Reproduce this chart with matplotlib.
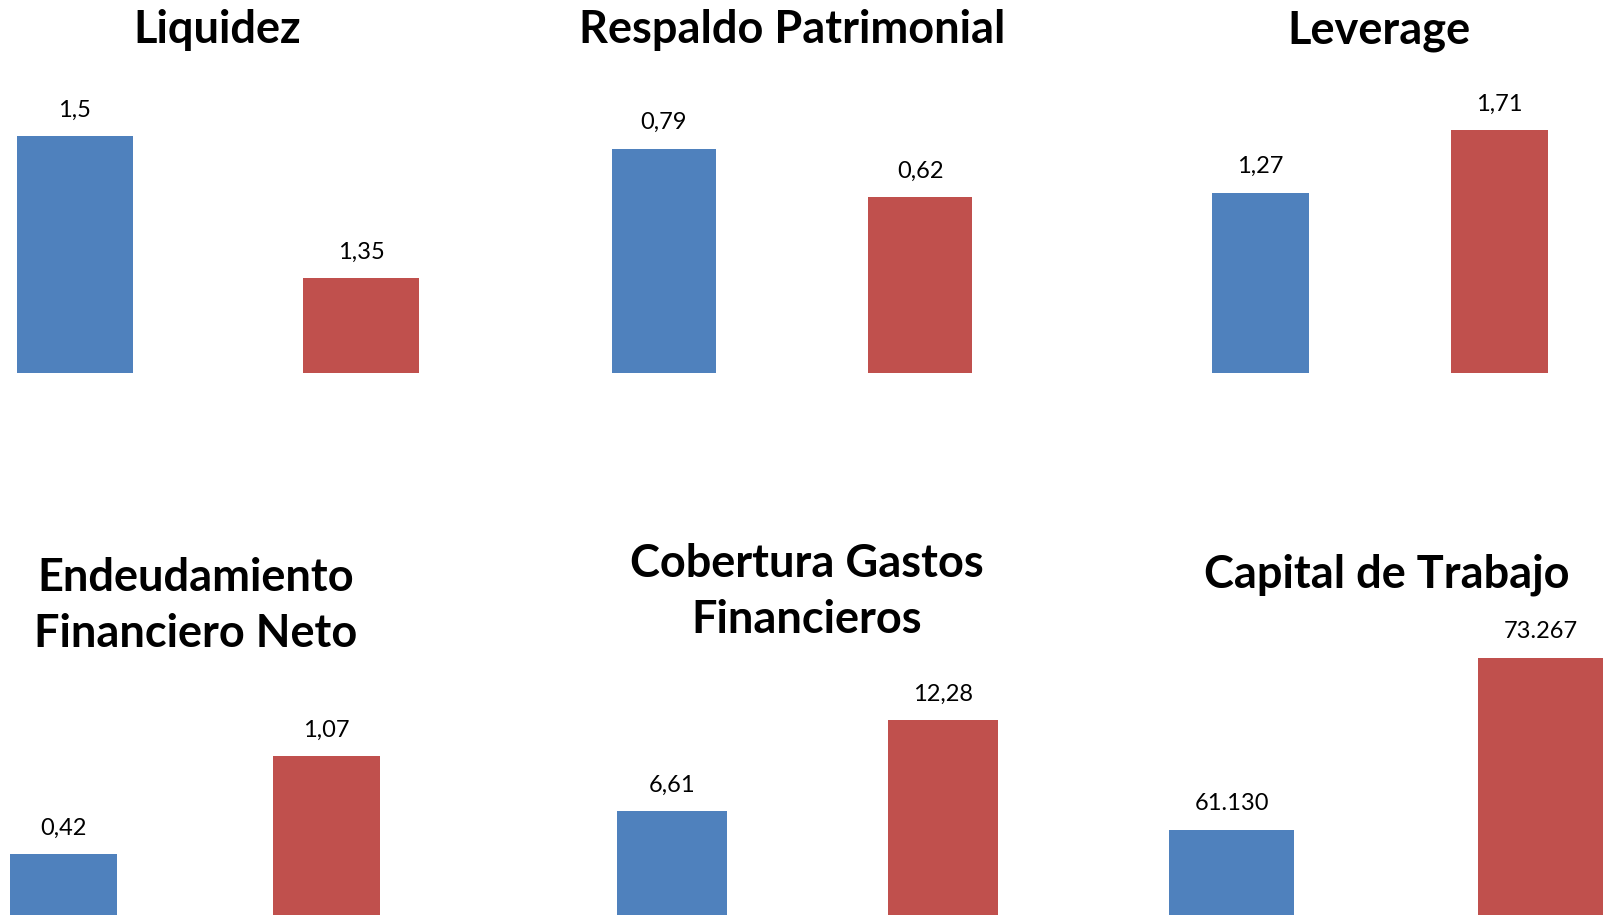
import matplotlib
matplotlib.use('Agg')
import matplotlib.pyplot as plt

# indicator names, first period (blue) and second period (red)
titles = ['Liquidez', 'Respaldo Patrimonial', 'Leverage',
          'Endeudamiento\nFinanciero Neto', 'Cobertura Gastos\nFinancieros',
          'Capital de Trabajo']
values_a = [1.5, 0.79, 1.27, 0.42, 6.61, 61130]
values_b = [1.35, 0.62, 1.71, 1.07, 12.28, 73267]

BLUE = '#4F81BD'
RED = '#C0504D'
W, H, DPI = 1603, 915, 100
BAR_W = 0.405

# panel layout in pixels: left, right, bottom (from top), y limits
panels = [
    (17, 419, 373, (1.25, 1.55)),
    (612, 972, 373, (0, 1)),
    (1212, 1548, 373, (0, 2)),
    (10, 380, 917, (0, 1.89)),
    (617, 998, 917, (0, 17.7)),
    (1169, 1603, 917, (55000, 75000)),
]
PANEL_H = 284

# title anchor (center x, baseline of last line y) in pixels
title_pos = [(217, 43), (792, 43), (1379, 43), (196, 647), (807, 633), (1387, 587)]


def fmt(v):
    if v >= 1000:
        return '{:,.0f}'.format(v).replace(',', '.')
    return '{:g}'.format(v).replace('.', ',')


fig = plt.figure(figsize=(W / DPI, H / DPI), dpi=DPI)

for i, (left, right, bottom, ylim) in enumerate(panels):
    ax = fig.add_axes([left / W, 1 - bottom / H, (right - left) / W, PANEL_H / H])
    vals = [values_a[i], values_b[i]]
    ax.bar([0, 1], vals, width=BAR_W, color=[BLUE, RED])
    ax.set_xlim(-BAR_W / 2, 1 + BAR_W / 2)
    ax.set_ylim(*ylim)
    ax.axis('off')
    for x, v in zip([0, 1], vals):
        ax.annotate(fmt(v), (x, v), xytext=(0, 26 * 72 / DPI), textcoords='offset points',
                    ha='center', va='center', fontsize=17, family='Lato',
                    annotation_clip=False)

    tx, ty = title_pos[i]
    fig.text(tx / W, 1 - ty / H, titles[i], ha='center', va='baseline',
             fontsize=32.5, fontweight='bold', family='Lato', linespacing=1.42,
             multialignment='center')

fig.savefig('out.png', dpi=DPI)
